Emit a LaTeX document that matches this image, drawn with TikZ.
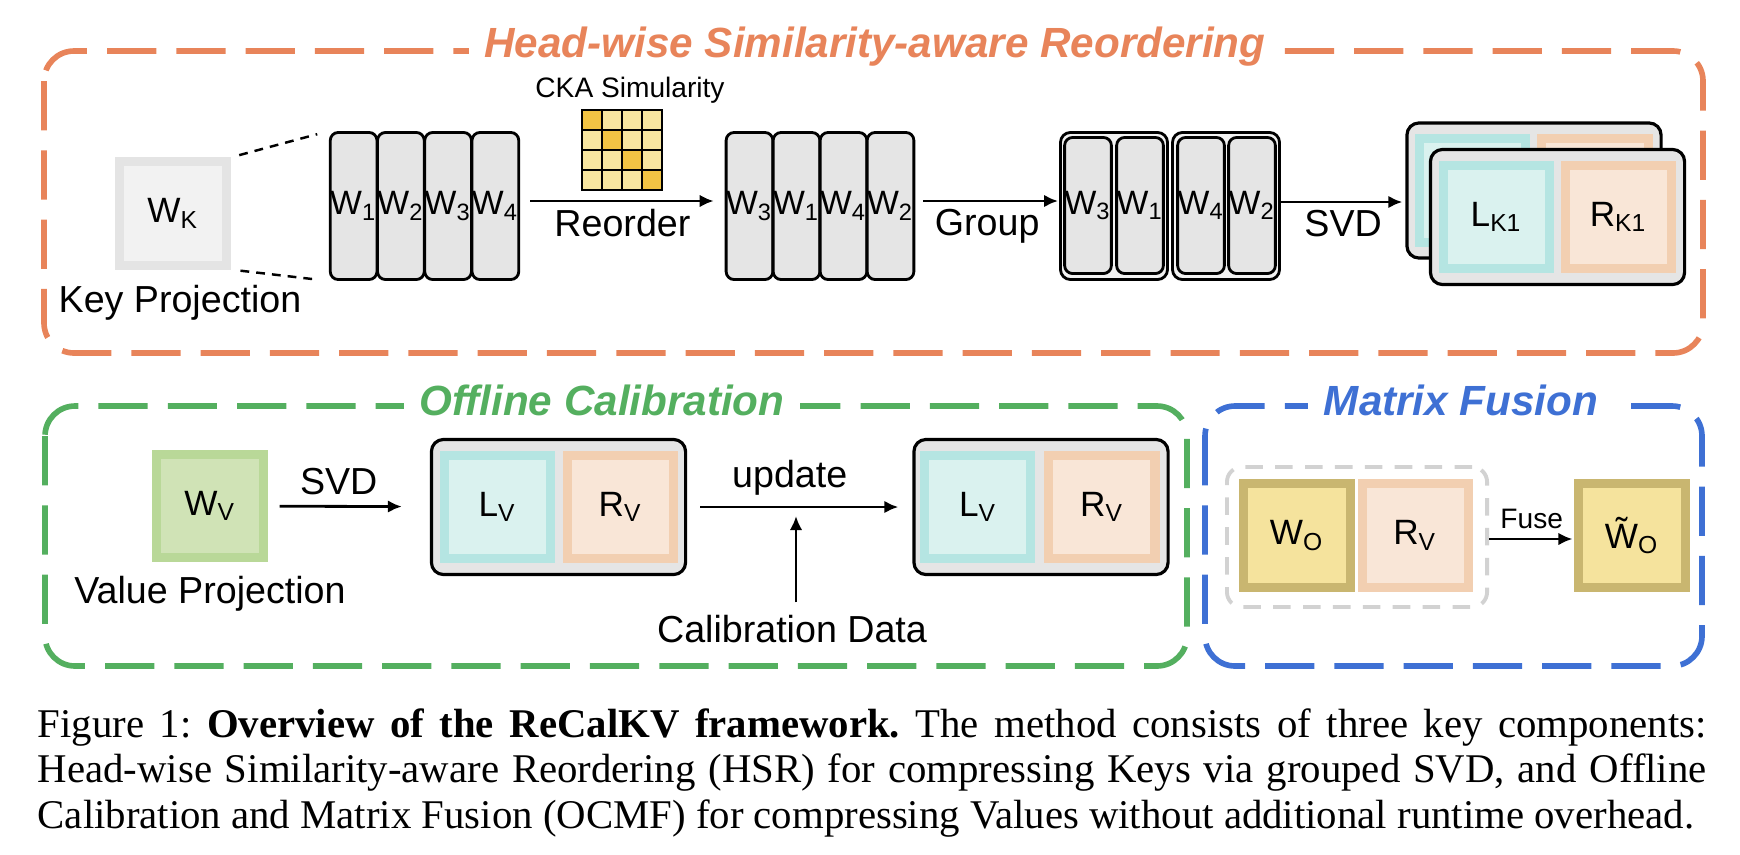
\documentclass[tikz,border=0pt]{standalone}
\usepackage{fontspec}
\setmainfont{Liberation Serif}
\setsansfont{Liberation Sans}
\usetikzlibrary{arrows.meta, positioning}
\definecolor{hsrorange}{RGB}{232,132,90}
\definecolor{ocgreen}{RGB}{84,175,95}
\definecolor{mfblue}{RGB}{62,112,212}
\definecolor{stripgray}{RGB}{229,229,229}
\definecolor{framegray}{RGB}{229,229,229}
\definecolor{kout}{RGB}{228,228,228}
\definecolor{kin}{RGB}{242,242,242}
\definecolor{vout}{RGB}{185,216,152}
\definecolor{vin}{RGB}{208,227,182}
\definecolor{lout}{RGB}{181,229,226}
\definecolor{lin}{RGB}{218,242,239}
\definecolor{rout}{RGB}{242,207,177}
\definecolor{rin}{RGB}{249,230,215}
\definecolor{oout}{RGB}{201,182,112}
\definecolor{oin}{RGB}{245,227,157}
\definecolor{ckadark}{RGB}{242,196,68}
\definecolor{ckalight}{RGB}{248,230,160}
\definecolor{fusegray}{RGB}{210,210,210}
\begin{document}
\begin{tikzpicture}[
      x=0.01cm, y=-0.01cm, % one unit = one pixel of the layout
      >={Latex[length=4pt,width=3.6pt]},
      font=\sffamily\fontsize{10.7}{12}\selectfont,
      sectbox/.style={rounded corners=0.3cm, line width=1.6pt, dash pattern=on 14pt off 5.7pt},
      secttitle/.style={
        fill=white,
        inner xsep=4.5pt,
        inner ysep=1pt,
        anchor=base,
        font=\sffamily\bfseries\itshape\fontsize{12}{14}\selectfont
      },
      headstrip/.style={
        rectangle,
        draw,
        fill=stripgray,
        rounded corners=0.08cm,
        minimum width=0.46cm,
        minimum height=1.47cm,
        line width=0.8pt,
        inner sep=0pt,
        font=\sffamily\fontsize{9.6}{12}\selectfont
      },
      gframe/.style={rectangle, draw, fill=white!95!black, rounded corners=0.1cm,
        minimum width=1.07cm, minimum height=1.47cm, line width=0.8pt},
      lrframe/.style={rectangle, draw, fill=framegray, rounded corners=0.12cm,
        minimum width=2.54cm, minimum height=1.35cm, line width=0.9pt},
      blk/.style={
        rectangle,
        line width=2.56pt,
        inner sep=0pt,
        minimum width=1.06cm, % outer size 115px with the border
        minimum height=1.03cm,
        font=\sffamily\fontsize{10}{12}\selectfont
      },
      kblk/.style={blk, draw=kout, fill=kin},
      vblk/.style={blk, draw=vout, fill=vin},
      lblk/.style={blk, draw=lout, fill=lin},
      rblk/.style={blk, draw=rout, fill=rin},
      oblk/.style={blk, draw=oout, fill=oin},
      tinytext/.style={font=\sffamily\fontsize{8}{9}\selectfont}
    ]
    \useasboundingbox (0,0) rectangle (1740,854);

    % --- Head-wise Similarity-aware Reordering
    \draw[sectbox, draw=hsrorange] (44,51) rectangle (1703,353);
    \node[secttitle, text=hsrorange] (hsrtitle) at (875,57) {Head-wise Similarity-aware Reordering};

    \node[kblk] (wk) at (173,213.5) {W\textsubscript{K}};
    \node[anchor=base] (kproj) at (180,312) {Key Projection};

    \foreach \n [count=\c] in {1,2,3,4}
      \node[headstrip] (a\c) at ({330+47.25*(\c-0.5)},206) {W\textsubscript{\n}};
    \foreach \n [count=\c] in {3,1,4,2}
      \node[headstrip] (b\c) at ({726+47*(\c-0.5)},206) {W\textsubscript{\n}};

    \node[gframe] (g1) at (1114,206) {};
    \node[gframe] (g2) at (1226,206) {};
    \foreach \n/\px [count=\c] in {3/1088,1/1140,4/1201,2/1252}
      \node[headstrip, minimum width=0.45cm, minimum height=1.36cm] (c\c) at (\px,205.5) {W\textsubscript{\n}};

    \draw[dashed, dash pattern=on 2.5pt off 2pt, line width=0.7pt, shorten <=0.09cm, shorten >=0.12cm] (wk.north east) -- (a1.north west);
    \draw[dashed, dash pattern=on 2.5pt off 2pt, line width=0.7pt, shorten <=0.1cm, shorten >=0.1cm] (wk.south east) -- (a1.south west);

    % similarity matrix
    \node[tinytext, anchor=base] (ckalbl) at (630,97) {CKA Simularity};
    \foreach \r in {0,...,3} {
      \foreach \c in {0,...,3} {
        \ifnum\r=\c
          \filldraw[fill=ckadark, draw=black, line width=0.8pt] ({582+20*\c},{110+20*\r}) rectangle +(20,20);
        \else
          \filldraw[fill=ckalight, draw=black, line width=0.8pt] ({582+20*\c},{110+20*\r}) rectangle +(20,20);
        \fi
      }
    }

    \node[lrframe] (kback) at (1534,190.5) {};
    \node[lblk, anchor=west] (lk0) at ([xshift=0.1cm]kback.west) {};
    \node[rblk, right=0.07cm of lk0] (rk0) {};
    \node[lrframe] (kfront) at (1557.5,217) {};
    \node[lblk, anchor=west] (lk1) at ([xshift=0.1cm]kfront.west) {L\textsubscript{K1}};
    \node[rblk, right=0.07cm of lk1] (rk1) {R\textsubscript{K1}};

    \draw[->, thick, shorten <=0.1cm, shorten >=0.11cm] ([yshift=0.05cm]a4.east) -- ([yshift=0.05cm]b1.west)
      node[midway, below=1pt, inner sep=1pt] {Reorder};
    \draw[->, thick, shorten <=0.08cm, shorten >=0.01cm] ([yshift=0.05cm]b4.east) -- ([yshift=0.05cm]g1.west)
      node[midway, below=1pt, inner sep=1pt] {Group};
    \draw[->, thick, shorten >=0.03cm] ([yshift=0.04cm]g2.east) -- ([yshift=0.04cm]g2.east -| kback.west)
      node[midway, below=1pt, inner sep=1pt] {SVD};

    % --- Offline Calibration
    \draw[sectbox, draw=ocgreen] (45,406) rectangle (1187,666);
    \node[secttitle, text=ocgreen] (octitle) at (602,415) {Offline Calibration};

    \node[vblk] (wv) at (210,506) {W\textsubscript{V}};
    \node[anchor=base] (vproj) at (210,603) {Value Projection};

    \node[lrframe] (fr1) at (558.5,507) {};
    \node[lblk, anchor=west] (lv1) at ([xshift=0.1cm]fr1.west) {L\textsubscript{V}};
    \node[rblk, right=0.08cm of lv1] (rv1) {R\textsubscript{V}};
    \node[lrframe] (fr2) at (1041,507) {};
    \node[lblk, anchor=west] (lv2) at ([xshift=0.08cm]fr2.west) {L\textsubscript{V}};
    \node[rblk, right=0.09cm of lv2] (rv2) {R\textsubscript{V}};

    \draw[->, thick, shorten <=0.12cm, shorten >=0.28cm] (wv) -- (fr1)
      node[midway, above=2pt, inner sep=1pt, xshift=-0.1cm] {SVD};
    \draw[->, thick, shorten <=0.13cm, shorten >=0.14cm] (fr1) -- (fr2)
      node[midway, above=2pt, inner sep=1pt, xshift=-0.1cm] {update};

    \node[anchor=base] (caldata) at (792,642) {Calibration Data};
    \coordinate (updin) at (796,516);
    \draw[->, thick] (caldata.north -| updin) -- (updin);

    % --- Matrix Fusion
    \draw[sectbox, draw=mfblue] (1205,406) rectangle (1702,666);
    \node[secttitle, text=mfblue] (mftitle) at (1461,415) {Matrix Fusion};

    \node[draw=fusegray, line width=1.1pt, dash pattern=on 5pt off 3.5pt, rounded corners=0.15cm,
      minimum width=2.6cm, minimum height=1.4cm] (fusegrp) at (1357,537) {};
    \node[oblk] (wo) at (1297,535.5) {W\textsubscript{O}};
    \node[rblk, right=0.03cm of wo] (rvo) {R\textsubscript{V}};
    \node[oblk] (wot) at (1632,535.5) {\~{W}\textsubscript{O}};
    \draw[->, thick, shorten >=0.02cm] ([yshift=-0.02cm]fusegrp.east) -- ([yshift=-0.02cm]fusegrp.east -| wot.west)
      node[midway, above=1.5pt, inner sep=1pt, tinytext] {Fuse};

    % --- caption
    \node[anchor=north west, inner sep=0pt, text width=16.68cm, align=justify,
      font=\rmfamily\fontsize{11.6}{12.95}\selectfont] (caption) at (37,708)
      {\frenchspacing\hyphenpenalty=10000 \exhyphenpenalty=10000 \parfillskip=0pt
       Figure 1: \textbf{Overview of the ReCalKV framework.} The method consists of three key components:\linebreak
       Head-wise Similarity-aware Reordering (HSR) for compressing Keys via grouped SVD, and Offline\linebreak
       Calibration and Matrix Fusion (OCMF) for compressing Values without additional runtime overhead.};
  \end{tikzpicture}
\end{document}
